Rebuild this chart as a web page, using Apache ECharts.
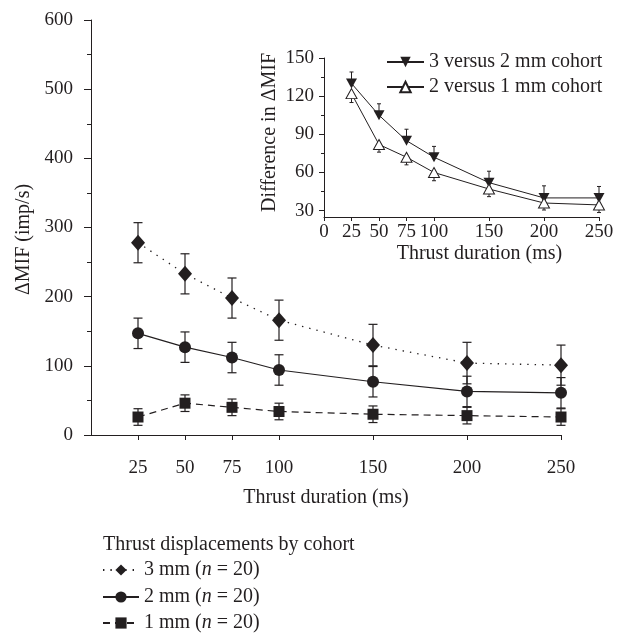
<!DOCTYPE html>
<html>
<head>
<meta charset="utf-8">
<script src="https://cdn.jsdelivr.net/npm/echarts@6/dist/echarts.min.js"></script>
<style>html,body{margin:0;padding:0;background:#fff;}#c{width:631px;height:633px;}</style>
</head>
<body>
<div id="c"></div>
<script>
// ---- data ----
const durations = [25, 50, 75, 100, 150, 200, 250];
const mean3mm = [278, 233, 198, 166, 130, 104, 101];
const err3mm  = [29, 29, 29, 29, 30, 30, 29];
const mean2mm = [147, 127, 112, 94, 77, 63, 61];
const err2mm  = [22, 22, 22, 22, 22, 22, 22];
const mean1mm = [26, 46, 40, 34, 30, 28, 26];
const err1mm  = [12, 12, 12, 12, 12, 12, 12];

const diff32    = [130, 105, 85, 72, 52, 40, 40];
const diff32Err = [9, 9, 9, 8.5, 9, 9.5, 9];
const diff21    = [122, 82, 72, 60, 47, 36, 34.5];
const diff21Err = [7, 6, 6, 6.5, 6, 5.5, 6];

const insetXTicks = [0, 25, 50, 75, 100, 150, 200, 250];
const insetYTicks = [30, 60, 90, 120, 150];
const insetYMinor = [45, 75, 105, 135];

const seriesNames = ['3 mm', '2 mm', '1 mm'];
const insetNames = ['3 versus 2 mm cohort', '2 versus 1 mm cohort'];

// ---- style ----
const INK = '#231f20';
const FONT = 'Liberation Serif';
const FS = 20;   // words
const FT = 19;   // tick digits

function pts(xs, ys) { return xs.map((x, i) => [x, ys[i]]); }
function errData(xs, m, e, mode) {
  return xs.map((x, i) => {
    if (mode === 'up') return [x, m[i], m[i] + e[i]];
    if (mode === 'down') return [x, m[i] - e[i], m[i]];
    return [x, m[i] - e[i], m[i] + e[i]];
  });
}
function errRender(capW, lw, capLo, capHi) {
  return function (params, api) {
    const x = api.value(0), lo = api.value(1), hi = api.value(2);
    const a = api.coord([x, lo]), b = api.coord([x, hi]);
    const children = [{ type: 'line', shape: { x1: a[0], y1: a[1], x2: b[0], y2: b[1] }, style: { stroke: INK, lineWidth: lw } }];
    if (capLo) children.push({ type: 'line', shape: { x1: a[0] - capW / 2, y1: a[1], x2: a[0] + capW / 2, y2: a[1] }, style: { stroke: INK, lineWidth: lw } });
    if (capHi) children.push({ type: 'line', shape: { x1: b[0] - capW / 2, y1: b[1], x2: b[0] + capW / 2, y2: b[1] }, style: { stroke: INK, lineWidth: lw } });
    return { type: 'group', children };
  };
}
const downTri = 'path://M0,0 L10,0 L5,9 Z';
const txt = { fontFamily: FONT, fontSize: FS, color: INK };
const tickTxt = { fontFamily: FONT, fontSize: FT, color: INK };

const mainLegendTops = [560, 587, 613];
const mainLegends = seriesNames.map((n, i) => ({
  data: [n],
  orient: 'horizontal', left: 102, top: mainLegendTops[i], padding: 0,
  itemWidth: 36, itemHeight: 14,
  textStyle: Object.assign({}, txt, { rich: { i: { fontFamily: FONT, fontSize: FS, fontStyle: 'italic', color: INK } } }),
  formatter: function (s) { return s + ' ({i|n} = 20)'; }
}));

const chart = echarts.init(document.getElementById('c'), null, { renderer: 'canvas' });
chart.setOption({
  backgroundColor: '#fff',
  animation: false,
  title: {
    text: 'Thrust displacements by cohort',
    left: 98, top: 530,
    textStyle: { fontFamily: FONT, fontSize: FS, fontWeight: 'normal', color: INK }
  },
  legend: mainLegends.concat([
    {
      data: insetNames,
      orient: 'vertical', left: 386, top: 52, padding: 0,
      itemWidth: 37, itemHeight: 13, itemGap: 5,
      textStyle: txt
    }
  ]),
  grid: [
    { left: 91, right: 70, top: 20, bottom: 198 },
    { left: 324, right: 32, top: 58, bottom: 416 }
  ],
  xAxis: [
    {
      gridIndex: 0, type: 'value', min: 0, max: 250,
      name: 'Thrust duration (ms)', nameLocation: 'middle', nameGap: 53,
      nameTextStyle: txt,
      axisLine: { show: true, lineStyle: { color: INK, width: 1 } },
      axisTick: { show: true, length: 5, customValues: durations, lineStyle: { color: INK } },
      axisLabel: Object.assign({ customValues: durations, margin: 24 }, tickTxt),
      splitLine: { show: false }
    },
    {
      gridIndex: 1, type: 'value', min: 0, max: 250,
      name: 'Thrust duration (ms)', nameLocation: 'middle', nameGap: 27,
      nameTextStyle: Object.assign({ padding: [0, 0, 0, 36] }, txt),
      axisLine: { show: true, lineStyle: { color: INK, width: 1 } },
      axisTick: { show: true, length: 4, customValues: insetXTicks, lineStyle: { color: INK } },
      axisLabel: Object.assign({ customValues: insetXTicks, margin: 6 }, tickTxt),
      splitLine: { show: false }
    }
  ],
  yAxis: [
    {
      gridIndex: 0, type: 'value', min: 0, max: 600, interval: 100,
      name: 'ΔMIF (imp/s)', nameLocation: 'middle', nameGap: 48,
      nameTextStyle: Object.assign({ padding: [0, 24, 0, 0] }, txt),
      axisLine: { show: true, lineStyle: { color: INK, width: 1 } },
      axisTick: { show: true, length: 7, lineStyle: { color: INK } },
      minorTick: { show: true, splitNumber: 2, length: 4, lineStyle: { color: INK } },
      axisLabel: Object.assign({ margin: 18 }, tickTxt),
      splitLine: { show: false }, minorSplitLine: { show: false }
    },
    {
      gridIndex: 1, type: 'value', min: 25, max: 150,
      name: 'Difference in ΔMIF', nameLocation: 'middle', nameGap: 44,
      nameTextStyle: Object.assign({ padding: [0, 0, 0, 10] }, txt),
      axisLine: { show: true, lineStyle: { color: INK, width: 1 } },
      axisTick: { show: true, length: 5, customValues: insetYTicks, lineStyle: { color: INK } },
      axisLabel: Object.assign({ customValues: insetYTicks, margin: 10 }, tickTxt),
      splitLine: { show: false }
    },
    {
      gridIndex: 1, type: 'value', min: 25, max: 150, position: 'left',
      axisLine: { show: false },
      axisTick: { show: true, length: 3, customValues: insetYMinor, lineStyle: { color: INK } },
      axisLabel: { show: false },
      splitLine: { show: false }
    }
  ],
  series: [
    // main error bars
    { type: 'custom', xAxisIndex: 0, yAxisIndex: 0, z: 1, silent: true, renderItem: errRender(9, 1.2, true, true), data: errData(durations, mean3mm, err3mm) },
    { type: 'custom', xAxisIndex: 0, yAxisIndex: 0, z: 1, silent: true, renderItem: errRender(9, 1.2, true, true), data: errData(durations, mean2mm, err2mm) },
    { type: 'custom', xAxisIndex: 0, yAxisIndex: 0, z: 1, silent: true, renderItem: errRender(9, 1.2, true, true), data: errData(durations, mean1mm, err1mm) },
    // main lines
    {
      name: seriesNames[0], type: 'line', xAxisIndex: 0, yAxisIndex: 0, z: 3,
      data: pts(durations, mean3mm), symbol: 'diamond', symbolSize: [14, 16],
      itemStyle: { color: INK }, lineStyle: { color: INK, width: 1.3, type: [1.4, 6] }
    },
    {
      name: seriesNames[1], type: 'line', xAxisIndex: 0, yAxisIndex: 0, z: 3,
      data: pts(durations, mean2mm), symbol: 'circle', symbolSize: 12,
      itemStyle: { color: INK }, lineStyle: { color: INK, width: 1.2, type: 'solid' }
    },
    {
      name: seriesNames[2], type: 'line', xAxisIndex: 0, yAxisIndex: 0, z: 3,
      data: pts(durations, mean1mm), symbol: 'rect', symbolSize: 11,
      itemStyle: { color: INK }, lineStyle: { color: INK, width: 1.2, type: [7, 5] }
    },
    // inset error bars
    { type: 'custom', xAxisIndex: 1, yAxisIndex: 1, z: 1, silent: true, renderItem: errRender(4, 1, false, true), data: errData(durations, diff32, diff32Err, 'up') },
    { type: 'custom', xAxisIndex: 1, yAxisIndex: 1, z: 1, silent: true, renderItem: errRender(4, 1, true, false), data: errData(durations, diff21, diff21Err, 'down') },
    // inset lines
    {
      name: insetNames[0], type: 'line', xAxisIndex: 1, yAxisIndex: 1, z: 3,
      data: pts(durations, diff32), symbol: downTri, symbolSize: [11, 10],
      itemStyle: { color: INK }, lineStyle: { color: INK, width: 1 }
    },
    {
      name: insetNames[1], type: 'line', xAxisIndex: 1, yAxisIndex: 1, z: 3,
      data: pts(durations, diff21), symbol: 'triangle', symbolSize: [11, 10],
      itemStyle: { color: '#fff', borderColor: INK, borderWidth: 1 }, lineStyle: { color: INK, width: 1 }
    }
  ]
});
</script>
</body>
</html>
